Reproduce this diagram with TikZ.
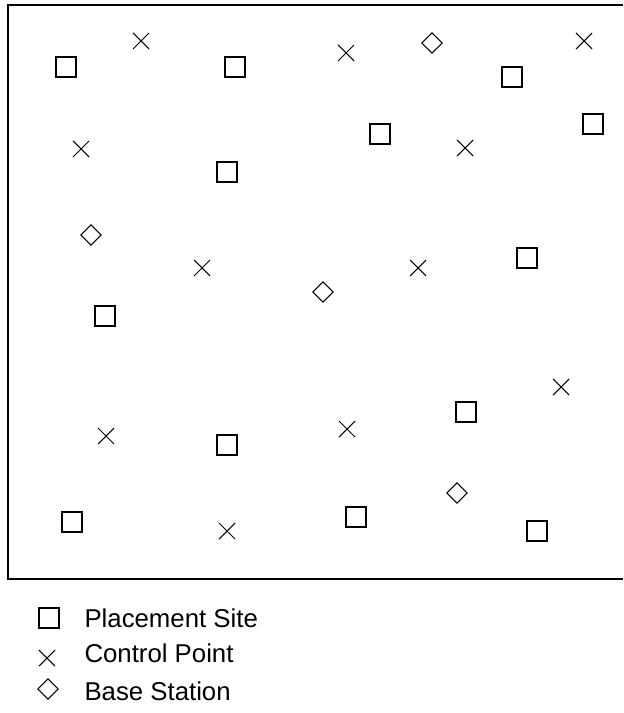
\documentclass[tikz,border=0pt]{standalone}
\usepackage{fontspec}
\setmainfont{Liberation Sans}
\usepackage{tikz}
\usetikzlibrary{shapes.geometric, shapes.misc, positioning}

\begin{document}
\begin{tikzpicture}[x=0.03cm, y=-0.03cm, line width=0.9pt,
	site/.style={rectangle, draw, minimum size=0.6cm, inner sep=0pt},
	ctrl/.style={cross out, draw, minimum size=0.45cm, inner sep=0pt},
	bs/.style={diamond, draw, minimum size=0.62cm, inner sep=0pt},
	lbl/.style={anchor=base west, inner sep=0pt, font=\fontsize{22}{26}\selectfont}]
	\useasboundingbox (0,0) rectangle (623,713);
	% frame
	\draw (623,5) -- (8,5) -- (8,579) -- (623,579);
	% placement sites
	\node[site] (s1) at (66,67) {};   \node[site] (s2) at (235,67) {};
	\node[site] (s3) at (512,77) {};  \node[site] (s4) at (593,124) {};
	\node[site] (s5) at (380,134) {}; \node[site] (s6) at (227,172) {};
	\node[site] (s7) at (527,258) {}; \node[site] (s8) at (105,316) {};
	\node[site] (s9) at (466,412) {}; \node[site] (s10) at (227,445) {};
	\node[site] (s11) at (72,522) {}; \node[site] (s12) at (356,517) {};
	\node[site] (s13) at (537,531) {};
	% control points
	\node[ctrl] (c1) at (141,41) {};  \node[ctrl] (c2) at (346,53) {};
	\node[ctrl] (c3) at (584,41) {};  \node[ctrl] (c4) at (81,149) {};
	\node[ctrl] (c5) at (465,148) {}; \node[ctrl] (c6) at (202,268) {};
	\node[ctrl] (c7) at (418,268) {}; \node[ctrl] (c8) at (561,387) {};
	\node[ctrl] (c9) at (106,436) {}; \node[ctrl] (c10) at (347,429) {};
	\node[ctrl] (c11) at (227,531) {};
	% base stations
	\node[bs] (d1) at (432,43) {};  \node[bs] (d2) at (91,235) {};
	\node[bs] (d3) at (323,292) {}; \node[bs] (d4) at (457,493) {};
	% legend
	\node[site] (ls) at (49,618) {};
	\node[ctrl] (lc) at (47,658) {};
	\node[bs] (ld) at (48,689) {};
	\node[lbl] (ts) at (84,627) {Placement Site};
	\node[lbl] (tc) at (84,662) {Control Point};
	\node[lbl] (td) at (84,700) {Base Station};
\end{tikzpicture}
\end{document}
